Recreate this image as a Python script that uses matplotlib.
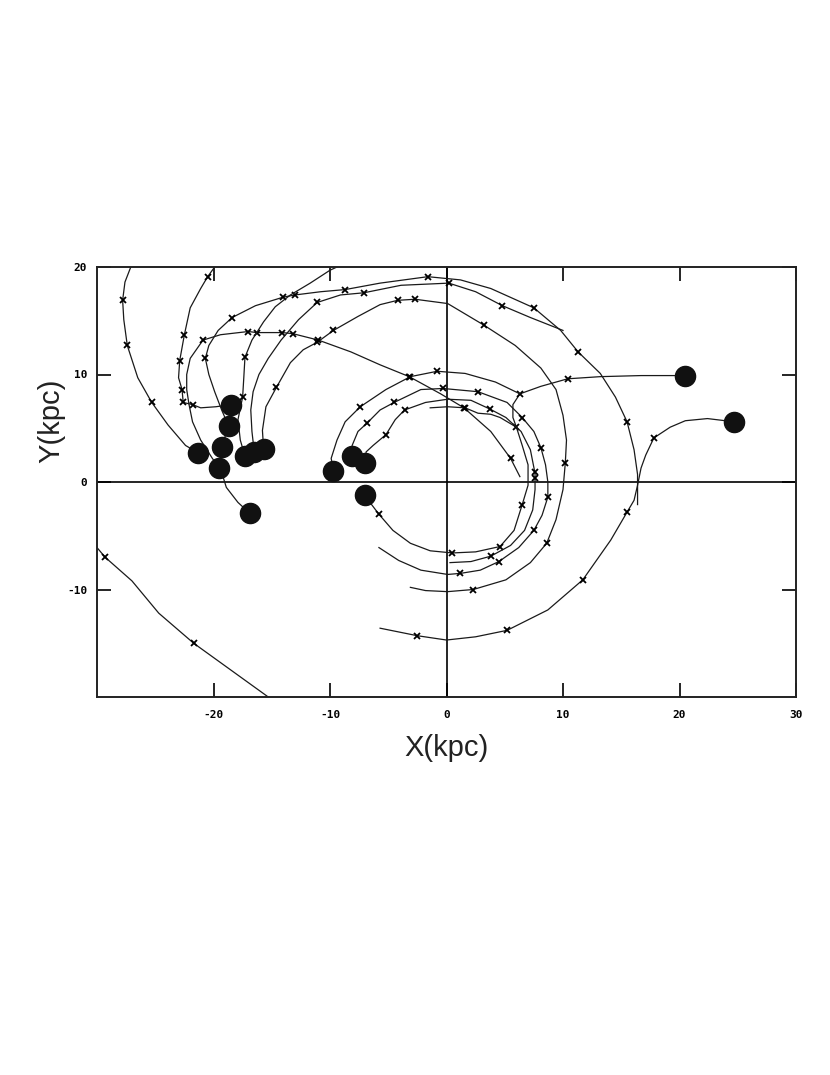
import matplotlib
matplotlib.use("Agg")
import matplotlib.pyplot as plt

plt.rcParams["axes.unicode_minus"] = False

# ---------------- data (kpc) ----------------
# present positions of the clusters (filled circles)
dot_x = [20.5, 24.7, -21.3, -19.5, -19.3, -18.7, -18.5, -16.9, -17.3, -16.5, -15.7, -9.7, -8.1, -7.0, -7.0]
dot_y = [9.9, 5.6, 2.7, 1.3, 3.3, 5.2, 7.2, -2.9, 2.4, 2.8, 3.1, 1.0, 2.4, 1.8, -1.2]

# orbit tracks
ll_x = [-30.0, -29.3, -27.0, -24.7, -21.7, -18.5, -15.3]
ll_y = [-6.1, -7.0, -9.2, -12.2, -15.0, -17.5, -20.0]
ll_mx = [-29.3, -21.7]
ll_my = [-7.0, -15.0]

o2_x = [24.7, 22.4, 20.5, 19.2, 17.8, 17.1, 16.7, 16.4, 16.1, 15.5, 14.1, 11.7, 8.7, 5.2, 2.5, 0.0, -2.5, -5.7]
o2_y = [5.6, 5.9, 5.7, 5.1, 4.1, 2.5, 1.3, -0.3, -1.7, -2.8, -5.4, -9.1, -11.9, -13.8, -14.4, -14.7, -14.3, -13.6]
o2_mx = [17.8, 15.5, 11.7, 5.2, -2.5]
o2_my = [4.1, -2.8, -9.1, -13.8, -14.3]

l1_x = [-21.3, -22.4, -23.9, -25.3, -26.5, -27.4, -27.7, -27.8, -27.6, -27.1]
l1_y = [2.7, 3.4, 5.3, 7.4, 9.7, 12.7, 15.1, 16.9, 18.6, 20.0]
l1_mx = [-25.3, -27.4, -27.8]
l1_my = [7.4, 12.7, 16.9]

l2_x = [-18.5, -19.8, -21.1, -21.8, -22.6, -22.7, -23.0, -22.9, -22.5, -22.0, -21.1, -20.5, -19.9]
l2_y = [7.2, 7.0, 6.9, 7.2, 7.4, 8.6, 9.7, 11.3, 13.7, 16.2, 18.0, 19.1, 20.0]
l2_mx = [-21.8, -22.6, -22.7, -22.9, -22.5, -20.5]
l2_my = [7.2, 7.4, 8.6, 11.3, 13.7, 19.1]

e_x = [-19.5, -20.1, -21.1, -21.8, -22.1, -22.3, -22.3, -22.0, -20.9, -19.4, -17.0, -16.3, -14.1,
       -13.2, -11.0, -8.2, -5.7, -3.2, -0.5, 1.5, 3.8, 5.5, 6.3]
e_y = [1.3, 2.2, 3.9, 5.6, 7.2, 8.6, 10.0, 11.5, 13.2, 13.7, 14.0, 13.9, 13.9,
       13.8, 13.2, 12.1, 10.9, 9.8, 8.2, 6.9, 4.7, 2.2, 0.5]
e_mx = [-20.9, -17.0, -16.3, -14.1, -13.2, -11.0, -3.2, 1.5, 5.5]
e_my = [13.2, 14.0, 13.9, 13.9, 13.8, 13.2, 9.8, 6.9, 2.2]

d8_x = [-16.9, -17.9, -18.9, -19.3]
d8_y = [-2.9, -1.9, -0.5, 0.9]

link_x = [-19.5, -19.3, -18.7, -18.5]
link_y = [1.3, 3.3, 5.2, 7.2]

a_x = [-18.7, -19.3, -19.9, -20.4, -20.7, -20.4, -19.6, -18.4, -16.4, -14.0, -13.0, -10.8, -8.7,
       -5.7, -1.6, 1.2, 3.8, 7.5, 9.8, 11.3, 13.2, 14.5, 15.5, 16.1, 16.4, 16.4]
a_y = [5.2, 6.7, 8.4, 10.0, 11.5, 12.7, 14.1, 15.3, 16.4, 17.2, 17.4, 17.7, 17.9,
       18.5, 19.1, 18.8, 18.0, 16.2, 14.1, 12.1, 10.1, 7.9, 5.6, 3.0, 0.7, -2.1]
a_mx = [-20.7, -18.4, -14.0, -13.0, -8.7, -1.6, 7.5, 11.3, 15.5]
a_my = [11.5, 15.3, 17.2, 17.4, 17.9, 19.1, 16.2, 12.1, 5.6]

up_x = [-17.3, -17.7, -17.9, -17.5, -17.4, -17.3, -16.7, -15.7, -14.7, -13.4, -11.7, -10.0, -9.4]
up_y = [2.4, 3.9, 5.8, 7.9, 9.7, 11.6, 13.2, 14.9, 16.3, 17.4, 18.5, 19.7, 20.0]
up_mx = [-17.5, -17.3]
up_my = [7.9, 11.6]

b_x = [-16.5, -16.7, -16.8, -16.6, -16.1, -15.3, -14.2, -12.7, -11.1, -9.1, -7.1, -3.9, 0.2, 2.5, 4.8, 7.2, 10.0]
b_y = [2.8, 4.7, 6.7, 8.4, 10.0, 11.5, 13.2, 15.1, 16.7, 17.4, 17.6, 18.3, 18.5, 17.7, 16.4, 15.3, 14.1]
b_mx = [-11.1, -7.1, 0.2, 4.8]
b_my = [16.7, 17.6, 18.5, 16.4]

g_x = [-15.7, -15.8, -15.5, -14.6, -13.4, -12.3, -11.1, -9.7, -7.6, -5.7, -4.2, -2.7, 0.1, 3.2, 5.9,
       8.1, 9.4, 10.0, 10.3, 10.2, 10.0, 9.4, 8.6, 7.2, 5.1, 2.3, 0.1, -1.8, -3.1]
g_y = [3.1, 4.8, 7.0, 8.8, 11.1, 12.3, 13.0, 14.1, 15.4, 16.5, 16.9, 17.0, 16.6, 14.6, 12.7,
       10.6, 8.6, 6.2, 3.9, 1.8, -0.7, -3.5, -5.7, -7.5, -9.1, -10.0, -10.2, -10.1, -9.8]
g_mx = [-14.6, -11.1, -9.7, -4.2, -2.7, 3.2, 10.2, 8.6, 2.3]
g_my = [8.8, 13.0, 14.1, 16.9, 17.0, 14.6, 1.8, -5.7, -10.0]

p1_x = [20.5, 16.7, 13.2, 10.4, 8.1, 6.3, 5.7, 5.7, 6.0]
p1_y = [9.9, 9.9, 9.8, 9.6, 8.9, 8.2, 7.2, 6.0, 5.1]
p1_mx = [10.4, 6.3]
p1_my = [9.6, 8.2]

pa_x = [-7.0, -6.5, -5.8, -4.6, -3.1, -1.4, 0.5, 2.5, 4.6, 5.8, 6.5, 7.0, 7.0, 6.5, 6.0,
        4.6, 3.8, 2.7, 1.6, 0.1, -1.4]
pa_y = [-1.2, -2.0, -3.0, -4.5, -5.7, -6.4, -6.6, -6.5, -6.0, -4.5, -2.1, -0.3, 1.6, 3.4, 5.1,
        6.0, 6.3, 6.4, 6.9, 7.0, 6.9]
pa_mx = [-5.8, 0.5, 4.6, 6.5, 6.0, 1.6]
pa_my = [-3.0, -6.6, -6.0, -2.1, 5.1, 6.9]

p12_x = [-9.7, -9.9, -9.4, -8.7, -7.4, -5.2, -3.1, -0.8, 1.6, 4.2, 6.3]
p12_y = [1.0, 2.2, 3.9, 5.6, 7.0, 8.6, 9.8, 10.3, 10.1, 9.3, 8.2]
p12_mx = [-7.4, -3.1, -0.8]
p12_my = [7.0, 9.8, 10.3]

p13_x = [-8.1, -8.1, -7.6, -6.8, -5.7, -4.5, -2.2, -0.3, 2.7, 5.2, 6.5, 7.5, 8.1, 8.5, 8.7, 8.7,
         8.2, 7.5, 6.2, 4.5, 2.9, 1.2, 0.1, -2.2, -4.1, -5.8]
p13_y = [2.4, 3.4, 4.7, 5.5, 6.7, 7.4, 8.6, 8.7, 8.4, 7.4, 6.0, 4.7, 3.2, 1.6, 0.0, -1.4,
         -3.1, -4.5, -6.1, -7.4, -8.2, -8.5, -8.6, -8.2, -7.3, -6.1]
p13_mx = [-6.8, -4.5, -0.3, 2.7, 6.5, 8.1, 8.7, 7.5, 4.5, 1.2]
p13_my = [5.5, 7.4, 8.7, 8.4, 6.0, 3.2, -1.4, -4.5, -7.4, -8.5]

p14_x = [-7.0, -6.9, -6.3, -5.2, -4.4, -3.6, -1.8, 0.1, 2.1, 3.7, 5.1, 6.4, 7.2, 7.6, 7.6, 7.4,
         6.7, 5.5, 3.8, 2.1, 0.3]
p14_y = [1.8, 2.8, 3.4, 4.4, 5.8, 6.7, 7.4, 7.7, 7.6, 6.8, 6.0, 4.7, 3.0, 0.8, -0.7, -2.6,
         -4.5, -5.9, -6.9, -7.4, -7.5]
p14_mx = [-5.2, -3.6, 3.7, 7.6, 7.6, 3.8]
p14_my = [4.4, 6.7, 6.8, 0.9, 0.4, -6.9]

x_ticks = [-20, -10, 0, 10, 20, 30]
y_ticks = [-10, 0, 10, 20]

# ---------------- figure ----------------
fig = plt.figure(figsize=(8.3, 10.75), dpi=100)
ax = fig.add_axes([97 / 830, 1 - 697 / 1075, (796 - 97) / 830, (697 - 267) / 1075])
ax.set_xlim(-30, 30)
ax.set_ylim(-20, 20)

line_kw = dict(color="#1a1a1a", lw=0.9, solid_joinstyle="round")
mark_kw = dict(ls="none", marker="x", ms=4.5, mew=1.3, color="black")

tracks = [
    (ll_x, ll_y, ll_mx, ll_my),
    (o2_x, o2_y, o2_mx, o2_my),
    (l1_x, l1_y, l1_mx, l1_my),
    (l2_x, l2_y, l2_mx, l2_my),
    (e_x, e_y, e_mx, e_my),
    (a_x, a_y, a_mx, a_my),
    (up_x, up_y, up_mx, up_my),
    (b_x, b_y, b_mx, b_my),
    (g_x, g_y, g_mx, g_my),
    (p1_x, p1_y, p1_mx, p1_my),
    (pa_x, pa_y, pa_mx, pa_my),
    (p12_x, p12_y, p12_mx, p12_my),
    (p13_x, p13_y, p13_mx, p13_my),
    (p14_x, p14_y, p14_mx, p14_my),
]
for tx, ty, mx, my in tracks:
    ax.plot(tx, ty, **line_kw)
    ax.plot(mx, my, **mark_kw)
ax.plot(d8_x, d8_y, **line_kw)
ax.plot(link_x, link_y, **line_kw)

ax.axhline(0, color="black", lw=1.2, zorder=1)
ax.axvline(0, color="black", lw=1.2, zorder=1)

ax.plot(dot_x, dot_y, ls="none", marker="o", ms=14.5, color="#111111", zorder=5)

for s in ax.spines.values():
    s.set_linewidth(1.4)
    s.set_color("#222222")

ax.set_xticks(x_ticks)
ax.set_yticks(y_ticks)
ax.tick_params(direction="in", length=10, width=1.2, top=True, right=True,
               labelsize=8, pad=9)
ax.tick_params(axis="y", pad=7)
for lab in ax.get_xticklabels() + ax.get_yticklabels():
    lab.set_fontfamily("DejaVu Sans Mono")
    lab.set_fontweight("bold")

fig.text(446 / 830, 1 - 748 / 1075, "X(kpc)", ha="center", va="center",
         fontsize=21, family="Liberation Sans", color="#222222")
fig.text(51 / 830, 1 - 421 / 1075, "Y(kpc)", ha="center", va="center",
         rotation=90, fontsize=21, family="Liberation Sans", color="#222222")

fig.savefig("out.png", dpi=100, facecolor="white")
